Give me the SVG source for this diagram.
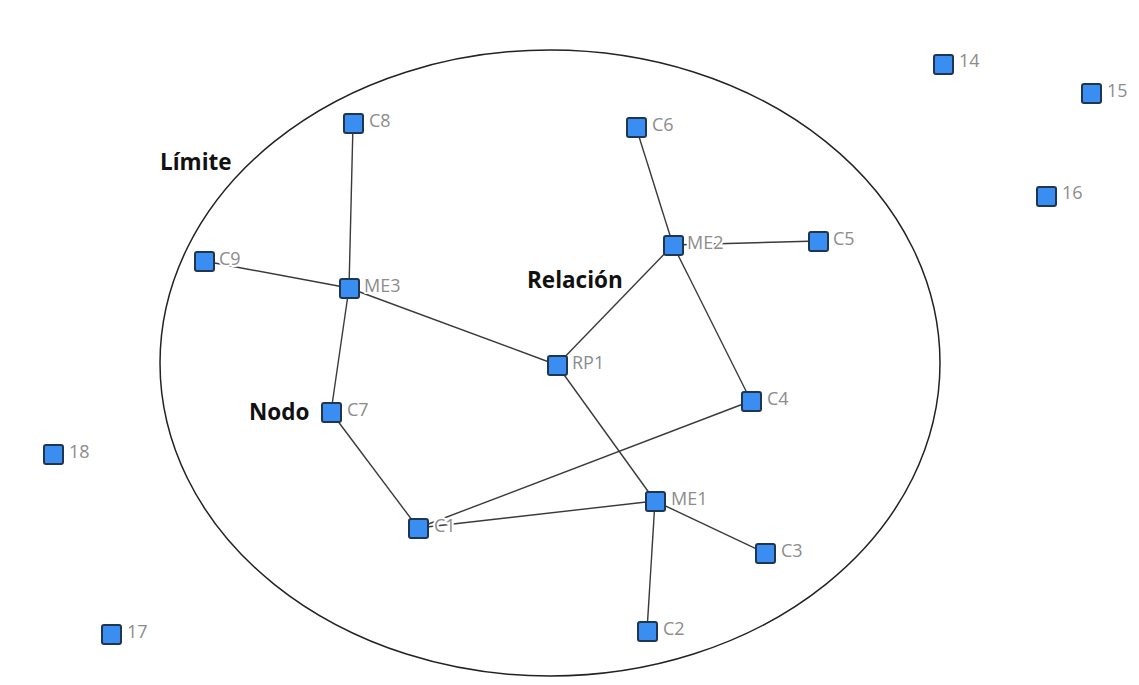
<svg xmlns="http://www.w3.org/2000/svg" width="1139" height="685" viewBox="0 0 1139 685">
<style>
.n rect{fill:#3a8ef2;stroke:#1f3550;stroke-width:2}
.n text{font-family:"Open Sans","DejaVu Sans",sans-serif;font-size:18px;fill:#8c8c8c;stroke:#fff;stroke-width:4;paint-order:stroke;stroke-linejoin:round}
.lbl{font-family:"Open Sans","DejaVu Sans",sans-serif;font-size:22.5px;font-weight:bold;fill:#111}
#edges line{stroke:#3a3a3a;stroke-width:1.4}
</style>
<rect width="1139" height="685" fill="#fff"/>
<ellipse cx="550" cy="363" rx="390" ry="313" fill="none" stroke="#222" stroke-width="1.5"/>
<g id="edges">
<line x1="353" y1="124" x2="349" y2="288"/>
<line x1="204" y1="261" x2="349" y2="288"/>
<line x1="349" y1="288" x2="557" y2="365"/>
<line x1="349" y1="288" x2="331" y2="412"/>
<line x1="331" y1="412" x2="418" y2="528"/>
<line x1="636" y1="127" x2="673" y2="245"/>
<line x1="673" y1="245" x2="818" y2="241"/>
<line x1="673" y1="245" x2="557" y2="365"/>
<line x1="673" y1="245" x2="751" y2="401"/>
<line x1="557" y1="365" x2="655" y2="501"/>
<line x1="418" y1="528" x2="751" y2="401"/>
<line x1="418" y1="528" x2="655" y2="501"/>
<line x1="655" y1="501" x2="765" y2="553"/>
<line x1="655" y1="501" x2="647" y2="631"/>
</g>
<g id="C8" class="n"><rect x="344" y="114" width="19" height="19" rx="2"/><text x="369" y="127">C8</text></g>
<g id="C6" class="n"><rect x="627" y="118" width="19" height="19" rx="2"/><text x="652" y="131">C6</text></g>
<g id="ME2" class="n"><rect x="664" y="236" width="19" height="19" rx="2"/><text x="687" y="249">ME2</text></g>
<g id="C5" class="n"><rect x="809" y="232" width="19" height="19" rx="2"/><text x="833" y="245">C5</text></g>
<g id="C9" class="n"><rect x="195" y="252" width="19" height="19" rx="2"/><text x="219" y="265">C9</text></g>
<g id="ME3" class="n"><rect x="340" y="279" width="19" height="19" rx="2"/><text x="364" y="292">ME3</text></g>
<g id="RP1" class="n"><rect x="548" y="356" width="19" height="19" rx="2"/><text x="572" y="369">RP1</text></g>
<g id="C7" class="n"><rect x="322" y="403" width="19" height="19" rx="2"/><text x="347" y="416">C7</text></g>
<g id="C4" class="n"><rect x="742" y="392" width="19" height="19" rx="2"/><text x="767" y="405">C4</text></g>
<g id="ME1" class="n"><rect x="646" y="492" width="19" height="19" rx="2"/><text x="671" y="505">ME1</text></g>
<g id="C1" class="n"><rect x="409" y="519" width="19" height="19" rx="2"/><text x="434" y="532">C1</text></g>
<g id="C3" class="n"><rect x="756" y="544" width="19" height="19" rx="2"/><text x="781" y="557">C3</text></g>
<g id="C2" class="n"><rect x="638" y="622" width="19" height="19" rx="2"/><text x="663" y="635">C2</text></g>
<g id="n14" class="n"><rect x="934" y="55" width="19" height="19" rx="2"/><text x="959" y="67">14</text></g>
<g id="n15" class="n"><rect x="1082" y="84" width="19" height="19" rx="2"/><text x="1107" y="97">15</text></g>
<g id="n16" class="n"><rect x="1037" y="187" width="19" height="19" rx="2"/><text x="1062" y="199">16</text></g>
<g id="n18" class="n"><rect x="44" y="445" width="19" height="19" rx="2"/><text x="69" y="458">18</text></g>
<g id="n17" class="n"><rect x="102" y="625" width="19" height="19" rx="2"/><text x="127" y="638">17</text></g>
<text class="lbl" x="160" y="170">Límite</text>
<text class="lbl" x="527" y="288">Relación</text>
<text class="lbl" x="249" y="420">Nodo</text>
</svg>
